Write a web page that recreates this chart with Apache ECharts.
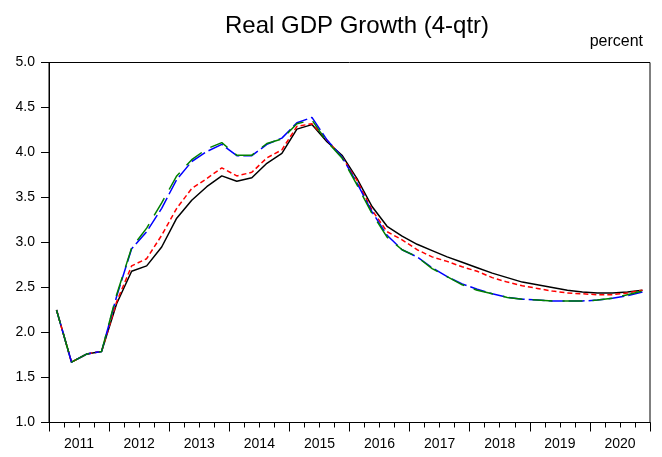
<!DOCTYPE html>
<html>
<head>
<meta charset="utf-8">
<script src="https://cdn.jsdelivr.net/npm/echarts@6/dist/echarts.min.js"></script>
<style>html,body{margin:0;padding:0;background:#fff;}#c{width:662px;height:457px;}</style>
</head>
<body>
<div id="c"></div>
<script>
var years = ['2011','2012','2013','2014','2015','2016','2017','2018','2019','2020'];
var quarters = [
 '2011Q1','2011Q2','2011Q3','2011Q4','2012Q1','2012Q2','2012Q3','2012Q4',
 '2013Q1','2013Q2','2013Q3','2013Q4','2014Q1','2014Q2','2014Q3','2014Q4',
 '2015Q1','2015Q2','2015Q3','2015Q4','2016Q1','2016Q2','2016Q3','2016Q4',
 '2017Q1','2017Q2','2017Q3','2017Q4','2018Q1','2018Q2','2018Q3','2018Q4',
 '2019Q1','2019Q2','2019Q3','2019Q4','2020Q1','2020Q2','2020Q3','2020Q4'];
var seriesBlack = [2.25,1.67,1.76,1.79,2.32,2.68,2.74,2.95,3.27,3.47,3.62,3.74,3.68,3.72,3.88,3.99,4.26,4.31,4.12,3.97,3.71,3.40,3.18,3.07,2.98,2.91,2.84,2.78,2.72,2.66,2.61,2.56,2.53,2.50,2.47,2.45,2.44,2.44,2.45,2.47];
var seriesRed = [2.25,1.67,1.76,1.79,2.34,2.74,2.82,3.08,3.38,3.60,3.71,3.83,3.74,3.78,3.94,4.03,4.29,4.32,4.14,3.95,3.69,3.36,3.12,3.03,2.92,2.84,2.79,2.73,2.68,2.61,2.56,2.52,2.49,2.46,2.44,2.43,2.42,2.42,2.44,2.47];
var seriesBlue = [2.25,1.67,1.76,1.79,2.40,2.93,3.12,3.38,3.70,3.90,4.01,4.09,3.965,3.965,4.09,4.16,4.33,4.39,4.14,3.95,3.66,3.34,3.08,2.92,2.84,2.72,2.62,2.54,2.48,2.43,2.39,2.37,2.36,2.35,2.35,2.35,2.36,2.38,2.41,2.45];
var seriesGreen = [2.25,1.67,1.76,1.79,2.42,2.94,3.16,3.44,3.74,3.92,4.04,4.11,3.97,3.97,4.10,4.15,4.32,4.36,4.12,3.94,3.64,3.32,3.06,2.92,2.84,2.71,2.62,2.53,2.47,2.43,2.39,2.37,2.36,2.35,2.35,2.35,2.36,2.38,2.42,2.46];
var yTicks = {min: 1.0, max: 5.0, step: 0.5};

var FONT = '"Liberation Sans", Arial, sans-serif';
var chart = echarts.init(document.getElementById('c'), null, {renderer: 'canvas'});
function line(name, data, color, type, width, offset) {
  return {
    name: name, type: 'line', data: data, xAxisIndex: 0, yAxisIndex: 0,
    symbol: 'none', smooth: false, animation: false,
    lineStyle: {color: color, width: width, type: type, dashOffset: offset || 0}
  };
}
chart.setOption({
  animation: false,
  backgroundColor: '#fff',
  title: [
    {text: 'Real GDP Growth (4-qtr)', left: 352, textAlign: 'center', top: 9,
     textStyle: {fontFamily: FONT, fontSize: 24, fontWeight: 'normal', color: '#000'}},
    {text: 'percent', right: 14, top: 29,
     textStyle: {fontFamily: FONT, fontSize: 16, fontWeight: 'normal', color: '#000'}}
  ],
  grid: {left: 49, right: 12, top: 62.5, bottom: 34.5, show: true, borderColor: '#000', borderWidth: 1, containLabel: false},
  xAxis: [
    {type: 'category', data: quarters, boundaryGap: true, position: 'bottom',
     axisLine: {show: true, lineStyle: {color: '#000', width: 1}},
     axisTick: {show: true, length: 5, interval: 0, lineStyle: {color: '#000'}},
     axisLabel: {show: false}, splitLine: {show: false}},
    {type: 'category', data: years, boundaryGap: true, position: 'bottom',
     axisLine: {show: false},
     axisTick: {show: true, length: 9, interval: 0, lineStyle: {color: '#000'}},
     axisLabel: {show: true, interval: 0, margin: 15, fontFamily: FONT, fontSize: 14, color: '#000'},
     splitLine: {show: false}}
  ],
  yAxis: {type: 'value', min: yTicks.min, max: yTicks.max, interval: yTicks.step,
    axisLine: {show: true, lineStyle: {color: '#000', width: 1}},
    axisTick: {show: true, length: 8, lineStyle: {color: '#000'}},
    axisLabel: {margin: 14, fontFamily: FONT, fontSize: 14, color: '#000', formatter: function(v){return v.toFixed(1);}},
    splitLine: {show: false}},
  series: [
    line('Black', seriesBlack, '#000000', 'solid', 1.5),
    line('Red', seriesRed, '#ff0000', [5, 3], 1.5),
    line('Blue', seriesBlue, '#0000ff', [16, 4], 1.5),
    line('Green', seriesGreen, '#008000', [20, 10], 1.5, 6)
  ]
});
</script>
</body>
</html>
